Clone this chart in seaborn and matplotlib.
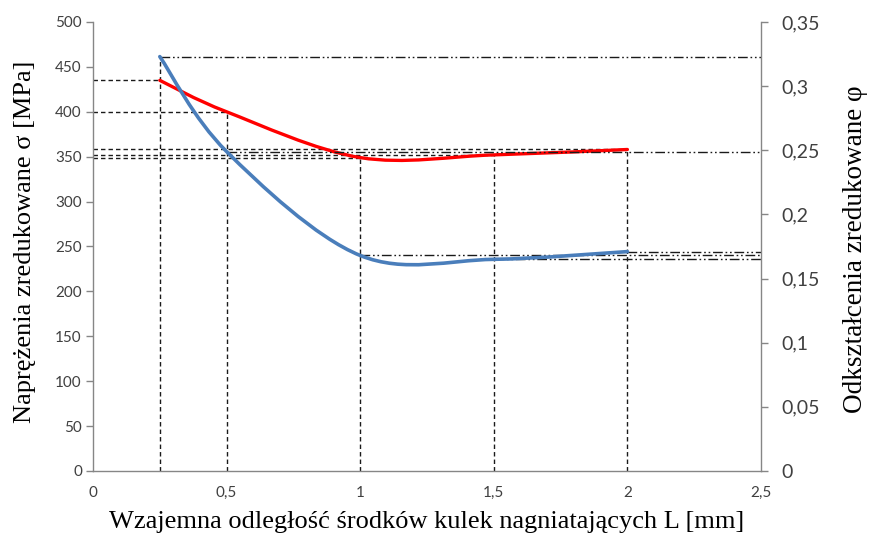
import numpy as np
import matplotlib
matplotlib.use("Agg")
import matplotlib.pyplot as plt
from matplotlib.path import Path
from matplotlib.patches import PathPatch
import seaborn as sns

# ---- data ----
L_mm = [0.25, 0.5, 1.0, 1.5, 2.0]
stress_MPa = [435, 400, 349, 352, 358]          # left axis, red
strain = [0.323, 0.249, 0.168, 0.165, 0.171]     # right axis, blue

x_ticks = [0, 0.5, 1, 1.5, 2, 2.5]
x_tick_labels = ["0", "0,5", "1", "1,5", "2", "2,5"]
y_left_ticks = list(range(0, 501, 50))
y_right_ticks = [0, 0.05, 0.1, 0.15, 0.2, 0.25, 0.3, 0.35]
y_right_labels = ["0", "0,05", "0,1", "0,15", "0,2", "0,25", "0,3", "0,35"]

x_label = "Wzajemna odległość środków kulek nagniatających L [mm]"
y_left_label = "Naprężenia zredukowane σ [MPa]"
y_right_label = "Odkształcenia zredukowane φ"

sns.set_style("white")
plt.rcParams["font.family"] = ["Lato", "DejaVu Sans"]

AX_GRAY = "#868686"
TICK_COL = "#404040"
RED = "#FF0000"
BLUE = "#4A7EBB"


def smooth_path(xs, ys):
    """Excel-like smoothed line: cubic Bezier through the points."""
    xs = np.asarray(xs, float)
    ys = np.asarray(ys, float)
    n = len(xs)
    verts = [(xs[0], ys[0])]
    codes = [Path.MOVETO]
    for i in range(n - 1):
        p0 = np.array([xs[max(i - 1, 0)], ys[max(i - 1, 0)]])
        p1 = np.array([xs[i], ys[i]])
        p2 = np.array([xs[i + 1], ys[i + 1]])
        p3 = np.array([xs[min(i + 2, n - 1)], ys[min(i + 2, n - 1)]])
        c1 = p1 + (p2 - p0) / 6.0
        c2 = p2 - (p3 - p1) / 6.0
        verts += [tuple(c1), tuple(c2), tuple(p2)]
        codes += [Path.CURVE4] * 3
    return Path(verts, codes)


fig = plt.figure(figsize=(8.7, 5.44), dpi=100)
ax = fig.add_axes([0.1069, 0.1342, 0.7678, 0.8254])
ax2 = ax.twinx()

ax.set_xlim(0, 2.5)
ax.set_ylim(0, 500)
ax2.set_ylim(0, 0.35)

# invisible seaborn lines to register data with the axes
sns.lineplot(x=L_mm, y=stress_MPa, ax=ax, color=RED, linewidth=0, legend=False)
sns.lineplot(x=L_mm, y=strain, ax=ax2, color=BLUE, linewidth=0, legend=False)

scale = 500 / 0.35
DASH = (0, (3.2, 2.2))
DASHDOT = (0, (7, 2, 1.2, 2, 1.2, 2))
for xv, s, e in zip(L_mm, stress_MPa, strain):
    top = max(s, e * scale)
    ax.plot([xv, xv], [0, top], color="#1a1a1a", lw=1.0, linestyle=DASH, zorder=2)
    ax.plot([0, xv], [s, s], color="#1a1a1a", lw=1.0, linestyle=DASH, zorder=2)
    ax2.plot([xv, 2.5], [e, e], color="#1a1a1a", lw=1.0, linestyle=DASHDOT, zorder=2)

ax.add_patch(PathPatch(smooth_path(L_mm, stress_MPa), facecolor="none",
                       edgecolor=RED, lw=2.4, capstyle="round", zorder=4))
ax2.add_patch(PathPatch(smooth_path(L_mm, strain), facecolor="none",
                        edgecolor=BLUE, lw=2.6, capstyle="round", zorder=4))

# ticks
ax.set_xticks(x_ticks)
ax.set_xticklabels(x_tick_labels)
ax.set_yticks(y_left_ticks)
ax.set_yticklabels([str(v) for v in y_left_ticks])
ax2.set_yticks(y_right_ticks)
ax2.set_yticklabels(y_right_labels)

ax.tick_params(axis="x", length=4, width=1, color=AX_GRAY, pad=7,
               labelsize=11, labelcolor=TICK_COL, direction="out")
ax.tick_params(axis="y", length=5, width=1, color=AX_GRAY, pad=3,
               labelsize=11, labelcolor=TICK_COL, direction="out")
ax2.tick_params(axis="y", length=5, width=1, color=AX_GRAY, pad=10,
                labelsize=14, labelcolor=TICK_COL, direction="out")

for a in (ax, ax2):
    for side in ("left", "right", "bottom"):
        a.spines[side].set_color(AX_GRAY)
        a.spines[side].set_linewidth(1.0)
    a.spines["top"].set_visible(False)
ax.spines["right"].set_visible(False)
ax2.spines["left"].set_visible(False)
ax2.spines["bottom"].set_visible(False)

serif = ["Liberation Serif", "DejaVu Serif"]
ax.set_xlabel(x_label, family=serif, fontsize=19, color="black", labelpad=8)
ax.set_ylabel(y_left_label, family=serif, fontsize=19, color="black",
              rotation=90, va="center")
ax2.set_ylabel(y_right_label, family=serif, fontsize=19.5, color="black",
               rotation=90, va="center")
ax.yaxis.set_label_coords(-0.102, 0.51)
ax2.yaxis.set_label_coords(1.141, 0.495)

fig.savefig("out.png", dpi=100)
